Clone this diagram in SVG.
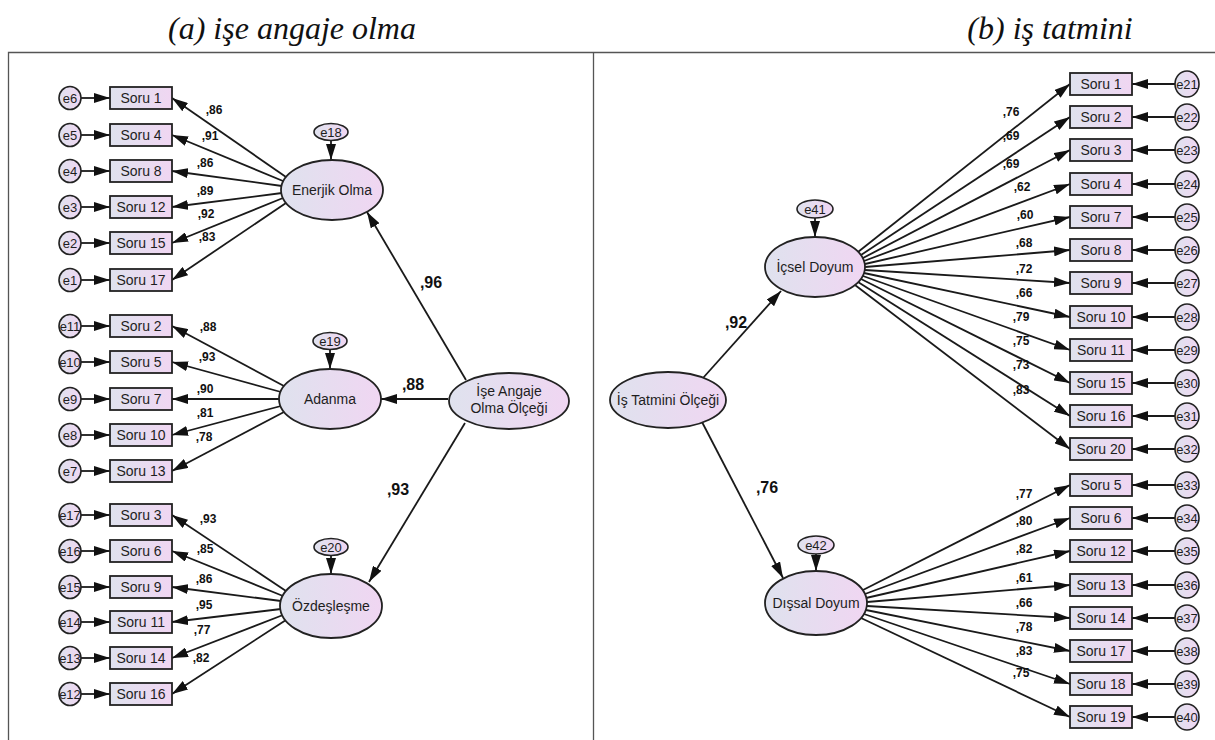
<svg xmlns="http://www.w3.org/2000/svg" width="1215" height="740" viewBox="0 0 1215 740">
<defs>
<linearGradient id="gf" x1="0" y1="0" x2="1" y2="0">
<stop offset="0" stop-color="#dfe2ee"/>
<stop offset="1" stop-color="#f0d6f2"/>
</linearGradient>
<marker id="ah" markerUnits="userSpaceOnUse" markerWidth="16" markerHeight="10" refX="16" refY="5" orient="auto">
<path d="M0,0 L16,5 L0,10 z" fill="#111"/>
</marker>
<style>
.t{font-family:"Liberation Serif","Times New Roman",serif;font-style:italic;font-size:32px;fill:#111;text-anchor:middle}
.frame{fill:none;stroke:#555;stroke-width:1.3}
.box{fill:url(#gf);stroke:#222;stroke-width:1.8}
.lat{fill:url(#gf);stroke:#222;stroke-width:1.8}
.err{fill:url(#gf);stroke:#222;stroke-width:1.6}
.lbl{font-family:"Liberation Sans",Arial,sans-serif;font-size:14px;fill:#1e1e1e;text-anchor:middle}
.el{font-family:"Liberation Sans",Arial,sans-serif;font-size:13px;fill:#1e1e1e;text-anchor:middle}
.co{font-family:"Liberation Sans",Arial,sans-serif;font-size:12px;font-weight:bold;fill:#111;text-anchor:middle}
.cb{font-family:"Liberation Sans",Arial,sans-serif;font-size:16px;font-weight:bold;fill:#111;text-anchor:middle}
.ln{stroke:#1a1a1a;stroke-width:1.8;fill:none;marker-end:url(#ah)}
</style>
</defs>
<rect width="1215" height="740" fill="#fff"/>
<text class="t" x="292" y="39">(a) işe angaje olma</text>
<text class="t" x="1050" y="39">(b) iş tatmini</text>
<path class="frame" d="M8.5,740 V52.5 H1215"/>
<line class="frame" x1="593.5" y1="52.5" x2="593.5" y2="740"/>

<g id="connectors">
<line class="ln" x1="81" y1="98" x2="110" y2="98"/>
<line class="ln" x1="81" y1="135" x2="110" y2="135"/>
<line class="ln" x1="81" y1="171" x2="110" y2="171"/>
<line class="ln" x1="81" y1="207" x2="110" y2="207"/>
<line class="ln" x1="81" y1="243" x2="110" y2="243"/>
<line class="ln" x1="81" y1="280" x2="110" y2="280"/>
<line class="ln" x1="81" y1="326" x2="110" y2="326"/>
<line class="ln" x1="81" y1="362" x2="110" y2="362"/>
<line class="ln" x1="81" y1="399" x2="110" y2="399"/>
<line class="ln" x1="81" y1="435" x2="110" y2="435"/>
<line class="ln" x1="81" y1="471" x2="110" y2="471"/>
<line class="ln" x1="81" y1="515" x2="110" y2="515"/>
<line class="ln" x1="81" y1="551" x2="110" y2="551"/>
<line class="ln" x1="81" y1="587" x2="110" y2="587"/>
<line class="ln" x1="81" y1="622" x2="110" y2="622"/>
<line class="ln" x1="81" y1="658" x2="110" y2="658"/>
<line class="ln" x1="81" y1="694" x2="110" y2="694"/>
<line class="ln" x1="286" y1="177" x2="172" y2="98"/>
<line class="ln" x1="283" y1="181" x2="172" y2="135"/>
<line class="ln" x1="282" y1="186" x2="172" y2="171"/>
<line class="ln" x1="282" y1="193" x2="172" y2="207"/>
<line class="ln" x1="283" y1="198" x2="172" y2="243"/>
<line class="ln" x1="286" y1="203" x2="172" y2="280"/>
<line class="ln" x1="284" y1="386" x2="172" y2="326"/>
<line class="ln" x1="281" y1="392" x2="172" y2="362"/>
<line class="ln" x1="279" y1="399" x2="172" y2="399"/>
<line class="ln" x1="281" y1="406" x2="172" y2="435"/>
<line class="ln" x1="284" y1="412" x2="172" y2="471"/>
<line class="ln" x1="286" y1="591" x2="172" y2="515"/>
<line class="ln" x1="283" y1="596" x2="172" y2="551"/>
<line class="ln" x1="281" y1="601" x2="172" y2="587"/>
<line class="ln" x1="281" y1="609" x2="172" y2="622"/>
<line class="ln" x1="283" y1="615" x2="172" y2="658"/>
<line class="ln" x1="286" y1="620" x2="172" y2="694"/>
<line class="ln" x1="466" y1="380" x2="367" y2="212"/>
<line class="ln" x1="448" y1="399" x2="381" y2="399"/>
<line class="ln" x1="465" y1="423" x2="369" y2="582"/>
<line class="ln" x1="331" y1="140" x2="331" y2="160"/>
<line class="ln" x1="330" y1="349" x2="330" y2="369"/>
<line class="ln" x1="331" y1="555" x2="331" y2="574"/>
<line class="ln" x1="1175" y1="84" x2="1132" y2="84"/>
<line class="ln" x1="1175" y1="117" x2="1132" y2="117"/>
<line class="ln" x1="1175" y1="150" x2="1132" y2="150"/>
<line class="ln" x1="1175" y1="184" x2="1132" y2="184"/>
<line class="ln" x1="1175" y1="217" x2="1132" y2="217"/>
<line class="ln" x1="1175" y1="250" x2="1132" y2="250"/>
<line class="ln" x1="1175" y1="283" x2="1132" y2="283"/>
<line class="ln" x1="1175" y1="317" x2="1132" y2="317"/>
<line class="ln" x1="1175" y1="350" x2="1132" y2="350"/>
<line class="ln" x1="1175" y1="383" x2="1132" y2="383"/>
<line class="ln" x1="1175" y1="416" x2="1132" y2="416"/>
<line class="ln" x1="1175" y1="449" x2="1132" y2="449"/>
<line class="ln" x1="1175" y1="485" x2="1132" y2="485"/>
<line class="ln" x1="1175" y1="518" x2="1132" y2="518"/>
<line class="ln" x1="1175" y1="551" x2="1132" y2="551"/>
<line class="ln" x1="1175" y1="585" x2="1132" y2="585"/>
<line class="ln" x1="1175" y1="618" x2="1132" y2="618"/>
<line class="ln" x1="1175" y1="651" x2="1132" y2="651"/>
<line class="ln" x1="1175" y1="684" x2="1132" y2="684"/>
<line class="ln" x1="1175" y1="717" x2="1132" y2="717"/>
<line class="ln" x1="858" y1="252" x2="1070" y2="84"/>
<line class="ln" x1="861" y1="255" x2="1070" y2="117"/>
<line class="ln" x1="863" y1="258" x2="1070" y2="150"/>
<line class="ln" x1="864" y1="261" x2="1070" y2="184"/>
<line class="ln" x1="865" y1="264" x2="1070" y2="217"/>
<line class="ln" x1="865" y1="267" x2="1070" y2="250"/>
<line class="ln" x1="865" y1="270" x2="1070" y2="283"/>
<line class="ln" x1="864" y1="273" x2="1070" y2="317"/>
<line class="ln" x1="863" y1="276" x2="1070" y2="350"/>
<line class="ln" x1="861" y1="279" x2="1070" y2="383"/>
<line class="ln" x1="858" y1="282" x2="1070" y2="416"/>
<line class="ln" x1="855" y1="285" x2="1070" y2="449"/>
<line class="ln" x1="863" y1="590" x2="1070" y2="485"/>
<line class="ln" x1="865" y1="594" x2="1070" y2="518"/>
<line class="ln" x1="866" y1="598" x2="1070" y2="551"/>
<line class="ln" x1="867" y1="602" x2="1070" y2="585"/>
<line class="ln" x1="867" y1="606" x2="1070" y2="618"/>
<line class="ln" x1="866" y1="610" x2="1070" y2="651"/>
<line class="ln" x1="864" y1="614" x2="1070" y2="684"/>
<line class="ln" x1="861" y1="618" x2="1070" y2="717"/>
<line class="ln" x1="703" y1="378" x2="781" y2="291"/>
<line class="ln" x1="702" y1="422" x2="783" y2="578"/>
<line class="ln" x1="815" y1="218" x2="815" y2="237"/>
<line class="ln" x1="816" y1="554" x2="816" y2="571"/>

<text class="co" x="214" y="114">,86</text>
<text class="co" x="210" y="140">,91</text>
<text class="co" x="205" y="167">,86</text>
<text class="co" x="205" y="195">,89</text>
<text class="co" x="206" y="218">,92</text>
<text class="co" x="207" y="241">,83</text>
<text class="co" x="208" y="331">,88</text>
<text class="co" x="207" y="361">,93</text>
<text class="co" x="205" y="393">,90</text>
<text class="co" x="205" y="417">,81</text>
<text class="co" x="204" y="441">,78</text>
<text class="co" x="208" y="523">,93</text>
<text class="co" x="205" y="553">,85</text>
<text class="co" x="204" y="583">,86</text>
<text class="co" x="204" y="609">,95</text>
<text class="co" x="202" y="634">,77</text>
<text class="co" x="201" y="662">,82</text>
<text class="cb" x="431" y="288">,96</text>
<text class="cb" x="413" y="390">,88</text>
<text class="cb" x="398" y="495">,93</text>
<text class="co" x="1011" y="116">,76</text>
<text class="co" x="1011" y="140">,69</text>
<text class="co" x="1011" y="168">,69</text>
<text class="co" x="1022" y="191">,62</text>
<text class="co" x="1025" y="219">,60</text>
<text class="co" x="1024" y="247">,68</text>
<text class="co" x="1024" y="273">,72</text>
<text class="co" x="1024" y="297">,66</text>
<text class="co" x="1021" y="321">,79</text>
<text class="co" x="1021" y="345">,75</text>
<text class="co" x="1021" y="369">,73</text>
<text class="co" x="1021" y="394">,83</text>
<text class="co" x="1024" y="498">,77</text>
<text class="co" x="1024" y="525">,80</text>
<text class="co" x="1024" y="553">,82</text>
<text class="co" x="1024" y="582">,61</text>
<text class="co" x="1024" y="607">,66</text>
<text class="co" x="1024" y="631">,78</text>
<text class="co" x="1024" y="655">,83</text>
<text class="co" x="1021" y="677">,75</text>
<text class="cb" x="736" y="328">,92</text>
<text class="cb" x="767" y="493">,76</text>
</g>

<g id="ise-angaje"><ellipse class="lat" cx="509" cy="401" rx="60" ry="28"/><text class="lbl" x="509" y="396">İşe Angaje</text><text class="lbl" x="509" y="413">Olma Ölçeği</text></g>
<g id="enerjik"><ellipse class="lat" cx="332" cy="190" rx="51" ry="30"/><text class="lbl" x="332" y="195">Enerjik Olma</text></g>
<g id="adanma"><ellipse class="lat" cx="330" cy="399" rx="51" ry="30"/><text class="lbl" x="330" y="404">Adanma</text></g>
<g id="ozdeslesme"><ellipse class="lat" cx="331" cy="606" rx="51" ry="32"/><text class="lbl" x="331" y="611">Özdeşleşme</text></g>
<g id="e18"><ellipse class="err" cx="331" cy="132" rx="17" ry="8.5"/><text class="el" x="331" y="137">e18</text></g>
<g id="e19"><ellipse class="err" cx="330" cy="341" rx="17" ry="8.5"/><text class="el" x="330" y="346">e19</text></g>
<g id="e20"><ellipse class="err" cx="331" cy="547" rx="17" ry="8.5"/><text class="el" x="331" y="552">e20</text></g>

<g id="l-soru1"><rect class="box" x="110" y="87" width="62" height="22"/><text class="lbl" x="141" y="103">Soru 1</text></g>
<g id="l-soru4"><rect class="box" x="110" y="124" width="62" height="22"/><text class="lbl" x="141" y="140">Soru 4</text></g>
<g id="l-soru8"><rect class="box" x="110" y="160" width="62" height="22"/><text class="lbl" x="141" y="176">Soru 8</text></g>
<g id="l-soru12"><rect class="box" x="110" y="196" width="62" height="22"/><text class="lbl" x="141" y="212">Soru 12</text></g>
<g id="l-soru15"><rect class="box" x="110" y="232" width="62" height="22"/><text class="lbl" x="141" y="248">Soru 15</text></g>
<g id="l-soru17"><rect class="box" x="110" y="269" width="62" height="22"/><text class="lbl" x="141" y="285">Soru 17</text></g>
<g id="l-soru2"><rect class="box" x="110" y="315" width="62" height="22"/><text class="lbl" x="141" y="331">Soru 2</text></g>
<g id="l-soru5"><rect class="box" x="110" y="351" width="62" height="22"/><text class="lbl" x="141" y="367">Soru 5</text></g>
<g id="l-soru7"><rect class="box" x="110" y="388" width="62" height="22"/><text class="lbl" x="141" y="404">Soru 7</text></g>
<g id="l-soru10"><rect class="box" x="110" y="424" width="62" height="22"/><text class="lbl" x="141" y="440">Soru 10</text></g>
<g id="l-soru13"><rect class="box" x="110" y="460" width="62" height="22"/><text class="lbl" x="141" y="476">Soru 13</text></g>
<g id="l-soru3"><rect class="box" x="110" y="504" width="62" height="22"/><text class="lbl" x="141" y="520">Soru 3</text></g>
<g id="l-soru6"><rect class="box" x="110" y="540" width="62" height="22"/><text class="lbl" x="141" y="556">Soru 6</text></g>
<g id="l-soru9"><rect class="box" x="110" y="576" width="62" height="22"/><text class="lbl" x="141" y="592">Soru 9</text></g>
<g id="l-soru11"><rect class="box" x="110" y="611" width="62" height="22"/><text class="lbl" x="141" y="627">Soru 11</text></g>
<g id="l-soru14"><rect class="box" x="110" y="647" width="62" height="22"/><text class="lbl" x="141" y="663">Soru 14</text></g>
<g id="l-soru16"><rect class="box" x="110" y="683" width="62" height="22"/><text class="lbl" x="141" y="699">Soru 16</text></g>

<g id="e6"><ellipse class="err" cx="70" cy="98" rx="11" ry="11.5"/><text class="el" x="70" y="103">e6</text></g>
<g id="e5"><ellipse class="err" cx="70" cy="135" rx="11" ry="11.5"/><text class="el" x="70" y="140">e5</text></g>
<g id="e4"><ellipse class="err" cx="70" cy="171" rx="11" ry="11.5"/><text class="el" x="70" y="176">e4</text></g>
<g id="e3"><ellipse class="err" cx="70" cy="207" rx="11" ry="11.5"/><text class="el" x="70" y="212">e3</text></g>
<g id="e2"><ellipse class="err" cx="70" cy="243" rx="11" ry="11.5"/><text class="el" x="70" y="248">e2</text></g>
<g id="e1"><ellipse class="err" cx="70" cy="280" rx="11" ry="11.5"/><text class="el" x="70" y="285">e1</text></g>
<g id="e11"><ellipse class="err" cx="70" cy="326" rx="11" ry="11.5"/><text class="el" x="70" y="331">e11</text></g>
<g id="e10"><ellipse class="err" cx="70" cy="362" rx="11" ry="11.5"/><text class="el" x="70" y="367">e10</text></g>
<g id="e9"><ellipse class="err" cx="70" cy="399" rx="11" ry="11.5"/><text class="el" x="70" y="404">e9</text></g>
<g id="e8"><ellipse class="err" cx="70" cy="435" rx="11" ry="11.5"/><text class="el" x="70" y="440">e8</text></g>
<g id="e7"><ellipse class="err" cx="70" cy="471" rx="11" ry="11.5"/><text class="el" x="70" y="476">e7</text></g>
<g id="e17"><ellipse class="err" cx="70" cy="515" rx="11" ry="11.5"/><text class="el" x="70" y="520">e17</text></g>
<g id="e16"><ellipse class="err" cx="70" cy="551" rx="11" ry="11.5"/><text class="el" x="70" y="556">e16</text></g>
<g id="e15"><ellipse class="err" cx="70" cy="587" rx="11" ry="11.5"/><text class="el" x="70" y="592">e15</text></g>
<g id="e14"><ellipse class="err" cx="70" cy="622" rx="11" ry="11.5"/><text class="el" x="70" y="627">e14</text></g>
<g id="e13"><ellipse class="err" cx="70" cy="658" rx="11" ry="11.5"/><text class="el" x="70" y="663">e13</text></g>
<g id="e12"><ellipse class="err" cx="70" cy="694" rx="11" ry="11.5"/><text class="el" x="70" y="699">e12</text></g>

<g id="is-tatmini"><ellipse class="lat" cx="668" cy="400" rx="58" ry="28"/><text class="lbl" x="668" y="405">İş Tatmini Ölçeği</text></g>
<g id="icsel"><ellipse class="lat" cx="815" cy="267" rx="50" ry="30"/><text class="lbl" x="815" y="272">İçsel Doyum</text></g>
<g id="dissal"><ellipse class="lat" cx="816" cy="603" rx="51" ry="32"/><text class="lbl" x="816" y="608">Dışsal Doyum</text></g>
<g id="e41"><ellipse class="err" cx="815" cy="209" rx="18" ry="9"/><text class="el" x="815" y="214">e41</text></g>
<g id="e42"><ellipse class="err" cx="816" cy="545" rx="18" ry="9"/><text class="el" x="816" y="550">e42</text></g>

<g id="r-soru1"><rect class="box" x="1070" y="73" width="62" height="22"/><text class="lbl" x="1101" y="89">Soru 1</text></g>
<g id="r-soru2"><rect class="box" x="1070" y="106" width="62" height="22"/><text class="lbl" x="1101" y="122">Soru 2</text></g>
<g id="r-soru3"><rect class="box" x="1070" y="139" width="62" height="22"/><text class="lbl" x="1101" y="155">Soru 3</text></g>
<g id="r-soru4"><rect class="box" x="1070" y="173" width="62" height="22"/><text class="lbl" x="1101" y="189">Soru 4</text></g>
<g id="r-soru7"><rect class="box" x="1070" y="206" width="62" height="22"/><text class="lbl" x="1101" y="222">Soru 7</text></g>
<g id="r-soru8"><rect class="box" x="1070" y="239" width="62" height="22"/><text class="lbl" x="1101" y="255">Soru 8</text></g>
<g id="r-soru9"><rect class="box" x="1070" y="272" width="62" height="22"/><text class="lbl" x="1101" y="288">Soru 9</text></g>
<g id="r-soru10"><rect class="box" x="1070" y="306" width="62" height="22"/><text class="lbl" x="1101" y="322">Soru 10</text></g>
<g id="r-soru11"><rect class="box" x="1070" y="339" width="62" height="22"/><text class="lbl" x="1101" y="355">Soru 11</text></g>
<g id="r-soru15"><rect class="box" x="1070" y="372" width="62" height="22"/><text class="lbl" x="1101" y="388">Soru 15</text></g>
<g id="r-soru16"><rect class="box" x="1070" y="405" width="62" height="22"/><text class="lbl" x="1101" y="421">Soru 16</text></g>
<g id="r-soru20"><rect class="box" x="1070" y="438" width="62" height="22"/><text class="lbl" x="1101" y="454">Soru 20</text></g>
<g id="r-soru5"><rect class="box" x="1070" y="474" width="62" height="22"/><text class="lbl" x="1101" y="490">Soru 5</text></g>
<g id="r-soru6"><rect class="box" x="1070" y="507" width="62" height="22"/><text class="lbl" x="1101" y="523">Soru 6</text></g>
<g id="r-soru12"><rect class="box" x="1070" y="540" width="62" height="22"/><text class="lbl" x="1101" y="556">Soru 12</text></g>
<g id="r-soru13"><rect class="box" x="1070" y="574" width="62" height="22"/><text class="lbl" x="1101" y="590">Soru 13</text></g>
<g id="r-soru14"><rect class="box" x="1070" y="607" width="62" height="22"/><text class="lbl" x="1101" y="623">Soru 14</text></g>
<g id="r-soru17"><rect class="box" x="1070" y="640" width="62" height="22"/><text class="lbl" x="1101" y="656">Soru 17</text></g>
<g id="r-soru18"><rect class="box" x="1070" y="673" width="62" height="22"/><text class="lbl" x="1101" y="689">Soru 18</text></g>
<g id="r-soru19"><rect class="box" x="1070" y="706" width="62" height="22"/><text class="lbl" x="1101" y="722">Soru 19</text></g>

<g id="e21"><ellipse class="err" cx="1187" cy="84" rx="12" ry="13"/><text class="el" x="1187" y="89">e21</text></g>
<g id="e22"><ellipse class="err" cx="1187" cy="117" rx="12" ry="13"/><text class="el" x="1187" y="122">e22</text></g>
<g id="e23"><ellipse class="err" cx="1187" cy="150" rx="12" ry="13"/><text class="el" x="1187" y="155">e23</text></g>
<g id="e24"><ellipse class="err" cx="1187" cy="184" rx="12" ry="13"/><text class="el" x="1187" y="189">e24</text></g>
<g id="e25"><ellipse class="err" cx="1187" cy="217" rx="12" ry="13"/><text class="el" x="1187" y="222">e25</text></g>
<g id="e26"><ellipse class="err" cx="1187" cy="250" rx="12" ry="13"/><text class="el" x="1187" y="255">e26</text></g>
<g id="e27"><ellipse class="err" cx="1187" cy="283" rx="12" ry="13"/><text class="el" x="1187" y="288">e27</text></g>
<g id="e28"><ellipse class="err" cx="1187" cy="317" rx="12" ry="13"/><text class="el" x="1187" y="322">e28</text></g>
<g id="e29"><ellipse class="err" cx="1187" cy="350" rx="12" ry="13"/><text class="el" x="1187" y="355">e29</text></g>
<g id="e30"><ellipse class="err" cx="1187" cy="383" rx="12" ry="13"/><text class="el" x="1187" y="388">e30</text></g>
<g id="e31"><ellipse class="err" cx="1187" cy="416" rx="12" ry="13"/><text class="el" x="1187" y="421">e31</text></g>
<g id="e32"><ellipse class="err" cx="1187" cy="449" rx="12" ry="13"/><text class="el" x="1187" y="454">e32</text></g>
<g id="e33"><ellipse class="err" cx="1187" cy="485" rx="12" ry="13"/><text class="el" x="1187" y="490">e33</text></g>
<g id="e34"><ellipse class="err" cx="1187" cy="518" rx="12" ry="13"/><text class="el" x="1187" y="523">e34</text></g>
<g id="e35"><ellipse class="err" cx="1187" cy="551" rx="12" ry="13"/><text class="el" x="1187" y="556">e35</text></g>
<g id="e36"><ellipse class="err" cx="1187" cy="585" rx="12" ry="13"/><text class="el" x="1187" y="590">e36</text></g>
<g id="e37"><ellipse class="err" cx="1187" cy="618" rx="12" ry="13"/><text class="el" x="1187" y="623">e37</text></g>
<g id="e38"><ellipse class="err" cx="1187" cy="651" rx="12" ry="13"/><text class="el" x="1187" y="656">e38</text></g>
<g id="e39"><ellipse class="err" cx="1187" cy="684" rx="12" ry="13"/><text class="el" x="1187" y="689">e39</text></g>
<g id="e40"><ellipse class="err" cx="1187" cy="717" rx="12" ry="13"/><text class="el" x="1187" y="722">e40</text></g>
</svg>
